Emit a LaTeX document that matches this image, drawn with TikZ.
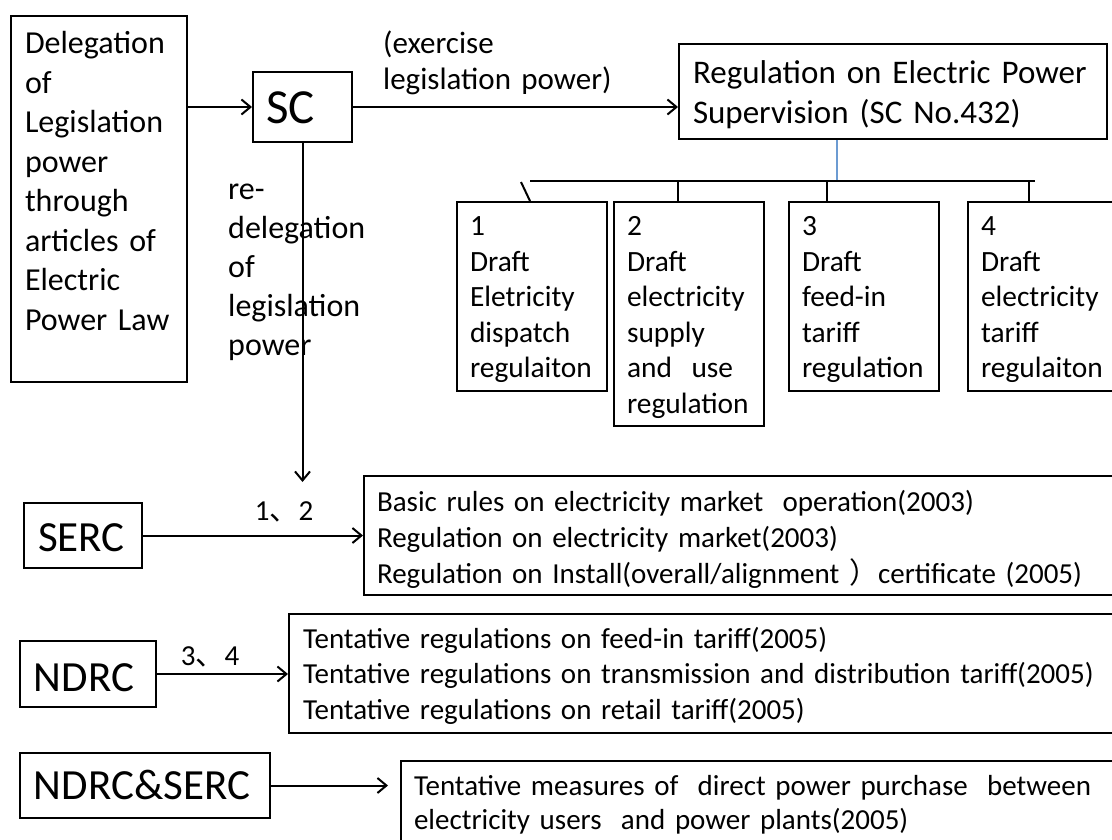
\documentclass[tikz,border=0pt]{standalone}
\usepackage{fontspec}
\setmainfont{Carlito}
\newfontfamily\cjk{Noto Sans CJK SC}
\usetikzlibrary{arrows.meta}

\begin{document}
\begin{tikzpicture}[x=1pt,y=-1pt,
		every node/.style={align=left, inner ysep=0pt, inner xsep=13pt},
		box/.style={draw, line width=2pt, anchor=north west},
		draftbox/.style={box, text width=124pt, text height=34pt, font=\fontsize{29.4}{35.5}\selectfont},
		agency/.style={box, inner xsep=14pt, font=\fontsize{43}{50}\selectfont},
		rulebox/.style={box, font=\fontsize{29}{35.5}\selectfont},
		lbl/.style={inner sep=0pt},
		conn/.style={line width=2pt, -{Straight Barb[length=9pt,width=15pt]}},
		feed/.style={line width=1.3pt, color={rgb,255:red,108;green,155;blue,210}}]
		\useasboundingbox (0,0) rectangle (1112,840);
		\clip (0,0) rectangle (1112,840);
		% law and state council
		\node[box, text width=148pt, inner xsep=14pt, text height=38pt, text depth=328pt, font=\fontsize{32}{39.5}\selectfont] (law) at (10,15)
			{Delegation\\of\\Legislation\\power\\through\\articles of\\Electric\\Power Law};
		\node[box, text width=73pt, text height=52pt, text depth=18pt, font=\fontsize{49}{58}\selectfont] (sc) at (252,71) {SC};
		\node[box, text width=400pt, inner xsep=14pt, text height=40pt, text depth=55pt, font=\fontsize{33}{40}\selectfont] (reg) at (678,43)
			{Regulation on Electric Power\\Supervision (SC No.432)};
		\node[lbl, anchor=base west, text width=240pt, font=\fontsize{31}{36}\selectfont] (exlbl) at (383,54) {(exercise\\legislation power)};
		\node[lbl, anchor=base west, text width=150pt, font=\fontsize{32}{39}\selectfont] (redel) at (228,200) {re-\\delegation\\of\\legislation\\power};
		% drafts
		\node[draftbox, text depth=155pt] (d1) at (456,201) {1\\Draft\\Eletricity\\dispatch\\regulaiton};
		\node[draftbox, text depth=190pt] (d2) at (613,201) {2\\Draft\\electricity\\supply\\and\ \ use\\regulation};
		\node[draftbox, text depth=155pt] (d3) at (788,201) {3\\Draft\\feed-in\\tariff\\regulation};
		\node[draftbox, text depth=155pt, text width=160pt] (d4) at (967,201) {4\\Draft\\electricity\\tariff\\regulaiton};
		% agencies
		\node[agency, text width=90pt, text height=48pt, text depth=17pt] (serc) at (23,502) {SERC};
		\node[agency, text width=108pt, text height=50pt, text depth=16pt] (ndrc) at (19,640) {NDRC};
		\node[agency, text width=222pt, text height=46pt, text depth=19pt] (joint) at (19,752) {NDRC\&SERC};
		\node[rulebox, text width=800pt, text height=35pt, text depth=84pt, font=\fontsize{29}{36}\selectfont] (sercregs) at (363,475)
			{Basic rules on electricity market\ \ operation(2003)\\Regulation on electricity market(2003)\\Regulation on Install(overall/alignment {\cjk ）}certificate (2005)};
		\node[rulebox, text width=850pt, inner xsep=14pt, text height=34pt, text depth=85pt] (ndrcregs) at (288,613)
			{Tentative regulations on feed-in tariff(2005)\\Tentative regulations on transmission and distribution tariff(2005)\\Tentative regulations on retail tariff(2005)};
		\node[rulebox, text width=800pt, text height=34pt, text depth=120pt, font=\fontsize{29}{34.5}\selectfont] (jointregs) at (400,760)
			{Tentative measures of\ \ direct power purchase\ \ between\\electricity users\ \ and power plants(2005)};
		\node[lbl, anchor=base, font=\fontsize{29}{34}\selectfont] (lbl12) at (284,520) {1{\cjk 、}2};
		\node[lbl, anchor=base, font=\fontsize{29}{34}\selectfont] (lbl34) at (210,665) {3{\cjk 、}4};
		% connectors
		\coordinate (redeltip) at (301,482);
		\coordinate (jointtip) at (388,788);
		\draw[conn] (law.east |- sc.west) -- (sc.west);
		\draw[conn] (sc.east) -- (sc.east -| reg.west);
		\draw[conn] (sc.south) -- (sc.south |- redeltip);
		\draw[conn] (serc.east) -- (serc.east -| sercregs.west);
		\draw[conn] (ndrc.east) -- (ndrc.east -| ndrcregs.west);
		\draw[conn] (joint.east) -- (joint.east -| jointtip);
		% bus to the drafts
		\coordinate (busL) at (530,181);
		\coordinate (busR) at (1035,181);
		\coordinate (busjoin) at (837,181);
		\draw[feed] (reg.south -| busjoin) -- (busjoin);
		\draw[line width=2pt] (busL) -- (busR);
		\draw[line width=2pt] (521,182) -- (d1.north -| 530,0);
		\foreach \tx/\dbox in {678/d2, 827/d3, 1029/d4}
			\draw[line width=2pt] (busL -| \tx,0) -- (\dbox.north -| \tx,0);
	\end{tikzpicture}
\end{document}
